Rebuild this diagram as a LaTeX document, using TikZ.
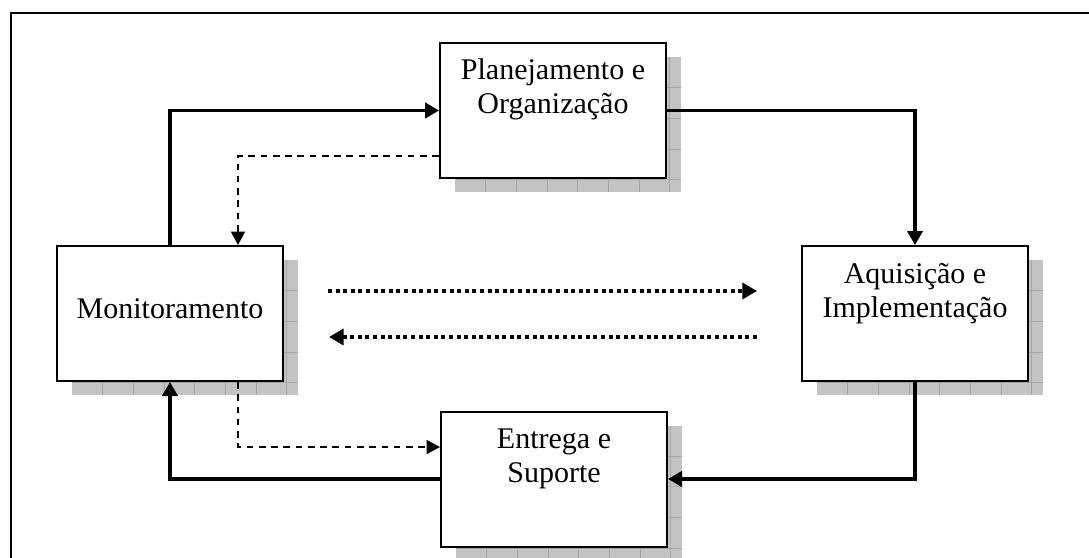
\documentclass[tikz,border=0pt]{standalone}
\usepackage{fontspec}
\setmainfont{Liberation Serif}
\usetikzlibrary{arrows.meta,calc}
\definecolor{shadefill}{RGB}{196,196,196}
\definecolor{gridcol}{RGB}{165,165,165}
\tikzset{
  box/.style={draw=black, line width=1.5pt, fill=white, minimum width=169.5pt, minimum height=101.25pt, inner sep=0pt},
  lbl/.style={align=center, font=\fontsize{22.5}{25.5}\selectfont, inner sep=0pt, anchor=base},
  flow/.style={line width=2.4pt, -{Triangle[length=10.5pt,width=11.5pt]}},
  ctrl/.style={line width=1.1pt, dash pattern=on 5pt off 4.2pt, -{Triangle[length=10pt,width=10.5pt]}},
  info/.style={line width=3pt, dash pattern=on 3pt off 2.7pt, -{Triangle[length=11pt,width=12pt]}},
  frame/.style={line width=1.5pt, draw=black},
  gridline/.style={line width=0.75pt, draw=gridcol},
}
\newcommand\shd[2]{%
  \begin{scope}[shift={({#1-98},{#2-53.5})}]
    \fill[shadefill] (0,0) rectangle (226,135);
    \foreach \k in {1,...,7} \draw[gridline] ({\k*30.7},0) -- ({\k*30.7},135);
    \foreach \k in {1,...,4} \draw[gridline] (0,{\k*30.7}) -- (226,{\k*30.7});
  \end{scope}}
\begin{document}
\begin{tikzpicture}[x=0.75pt,y=-0.75pt]
\useasboundingbox (0,0) rectangle (1089,557);
\clip (0,0) rectangle (1089,557);
\draw[frame] (11,13) rectangle (1110,580);
% shadows
\shd{553}{110.5}
\shd{170}{313.5}
\shd{915}{313.5}
\shd{554}{479}
% boxes
\node[box] (P) at (553,110.5) {};
\node[box] (M) at (170,313.5) {};
\node[box] (A) at (915,313.5) {};
\node[box] (E) at (554,479) {};
% texts (base anchor = last line)
\node[lbl] (Pt) at (553,113.5) {Planejamento e\\Organização};
\node[lbl] (Mt) at (170,318) {Monitoramento};
\node[lbl] (At) at (915,317.5) {Aquisição e\\Implementação};
\node[lbl] (Et) at (554,482.5) {Entrega e\\Suporte};
% main flow
\draw[flow] (M.north) |- (P.west);
\draw[flow] (P.east) -| (A.north);
\draw[flow] (A.south) |- (E.east);
\draw[flow] (E.west) -| (M.south);
% control (dashed)
\draw[ctrl] ($(P.west)+(0,45.5)$) -| ($(M.north)+(68,0)$);
\draw[ctrl] ($(M.south)+(68,0)$) |- ($(E.west)+(0,-32)$);
% information (dotted)
\coordinate (d1s) at (328,291);
\coordinate (d1e) at (757,291);
\coordinate (d2s) at (757,337);
\coordinate (d2e) at (329,337);
\draw[info] (d1s) -- (d1e);
\draw[info] (d2s) -- (d2e);
\end{tikzpicture}
\end{document}
